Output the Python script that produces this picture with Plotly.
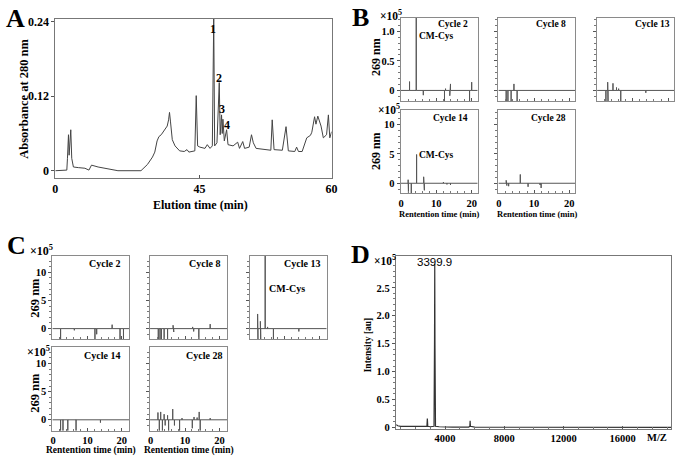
import plotly.graph_objects as go

# ---------------- data ----------------
# Panel A: RP-HPLC chromatogram (x on displayed axis scale, absorbance at 280 nm)
a_time = [0.0, 2.5, 2.64, 2.86, 3.0, 3.21, 3.36, 3.57, 3.93, 5.0, 6.43, 7.3, 7.86, 9.29, 13.6, 18.6,
          20.0, 21.1, 21.6, 22.1, 22.5, 23.0, 23.5, 24.0, 24.3, 24.6, 24.8, 25.0, 25.4, 26.0, 27.0,
          28.0, 28.6, 29.0, 30.0, 30.3, 30.6, 30.9, 31.4, 32.5, 33.0, 33.6, 34.1, 34.4, 34.6,
          35.1, 35.6, 35.8, 36.1, 36.25, 36.4, 36.7, 37.2, 37.5, 38.6, 39.6, 40.0, 40.7, 41.1,
          42.1, 42.6, 43.0, 43.6, 45.7, 46.8, 47.1, 47.5, 49.3, 50.1, 50.6, 52.0, 52.4, 52.8,
          53.6, 54.6, 55.4, 55.7, 56.3, 56.6, 57.0, 57.3, 57.7, 58.2, 58.9, 59.3, 59.6, 60.0]
a_abs = [0.000, 0.001, 0.020, 0.058, 0.025, 0.050, 0.066, 0.020, 0.006, 0.005, 0.004, 0.001, 0.009,
         0.006, 0.000, 0.000, 0.010, 0.022, 0.030, 0.048, 0.055, 0.058, 0.064, 0.068, 0.072, 0.082,
         0.094, 0.080, 0.050, 0.040, 0.032, 0.031, 0.034, 0.030, 0.031, 0.032, 0.121, 0.040, 0.038,
         0.036, 0.042, 0.036, 0.040, 0.245, 0.040, 0.045, 0.142, 0.058, 0.090, 0.060, 0.083, 0.048,
         0.066, 0.042, 0.040, 0.046, 0.036, 0.047, 0.036, 0.038, 0.058, 0.045, 0.036, 0.034, 0.033,
         0.082, 0.034, 0.033, 0.071, 0.032, 0.031, 0.038, 0.031, 0.031, 0.053, 0.057, 0.062, 0.087,
         0.075, 0.088, 0.082, 0.072, 0.053, 0.058, 0.090, 0.053, 0.063]
a_xtick_pos = [0, 31.3, 60]
a_xtick_text = ["0", "45", "60"]
a_ytick_val = [0, 0.12, 0.24]
a_ytick_text = ["0", "0.12", "0.24"]
a_peak_labels = ["1", "2", "3", "4"]
a_peak_x = [34.3, 35.6, 36.3, 37.3]
a_peak_y = [0.229, 0.150, 0.099, 0.073]

# Panel B: PTH chromatograms (x10^5), spike retention times and heights
b_cycles = ["Cycle 2", "Cycle 8", "Cycle 13", "Cycle 14", "Cycle 28"]
b_t = [
    [2.4, 4.3, 6.3, 12.3, 12.6, 13.8, 14.0, 19.4, 20.0],
    [2.1, 2.6, 3.5, 4.3, 5.2],
    [2.4, 2.9, 3.0, 4.4, 5.4, 6.0, 6.6, 13.7],
    [2.0, 2.1, 2.9, 4.4, 6.4, 6.6, 12.0, 13.0, 14.0],
    [2.1, 2.3, 2.8, 6.1, 8.3, 11.7, 12.0],
]
b_h = [
    [0.15, 1.3, -0.08, -0.2, 0.03, -0.09, 0.11, -0.2, 0.14],
    [-0.2, -0.2, -0.2, 0.11, -0.2],
    [-0.2, 0.14, -0.2, 0.12, 0.05, 0.03, -0.2, -0.04],
    [0.6, -1.8, -1.8, 4.9, 1.1, -1.2, 0.2, -0.2, -0.3],
    [0.5, -0.4, -0.5, 1.5, -0.6, -0.3, -0.8],
]
b_ytick_row1 = [0, 0.5, 1.0]
b_ytick_row1_text = ["0", "0.5", "1.0"]
b_ytick_row2 = [0, 5, 10]
b_ytick_row2_text = ["0", "5", "10"]

# Panel C
c_cycles = ["Cycle 2", "Cycle 8", "Cycle 13", "Cycle 14", "Cycle 28"]
c_t = [
    [2.2, 6.2, 12.2, 12.7, 17.2, 19.5, 20.5],
    [2.2, 2.7, 3.1, 3.9, 4.9, 6.5, 6.7, 12.2, 12.5, 14.0, 17.3],
    [2.1, 2.2, 2.9, 3.0, 4.3, 5.0, 6.7, 14.1],
    [2.2, 2.9, 4.3, 6.7, 13.8],
    [2.1, 2.5, 2.9, 3.4, 3.9, 4.2, 4.9, 5.2, 6.4, 6.9, 8.4, 9.1, 12.1, 12.6, 13.5, 14.1, 14.4, 17.3],
]
c_h = [
    [-2, -0.3, -2, -1.0, 0.7, -2, -2],
    [-2, -2, -2, -2, -2, 0.6, -0.6, 0.3, -0.5, -2, 0.8],
    [2.6, -2, 1.3, -2, 14, 0.3, -2, -0.5],
    [-2, -2, -2, -2, -0.5],
    [1.3, -2, 1.4, -2, 1.0, -1.0, 0.8, -2, 1.9, -1.0, -2, 0.3, -1.5, 0.5, 0.4, 1.4, -2, 0.3],
]
c_ytick = [0, 5, 10]
c_ytick_text = ["0", "5", "10"]
rt_xtick = [0, 10, 20]
rt_xtick_text = ["0", "10", "20"]

# Panel D: MALDI-TOF spectrum (x10^5)
d_mz = [700, 800, 1000, 1500, 2000, 2700, 2770, 2800, 2830, 3000, 3250, 3285, 3300, 3315, 3350,
        3600, 4500, 5600, 5670, 5690, 5710, 6000, 10000, 19300]
d_int = [0.05, 0.03, 0.02, 0.02, 0.012, 0.01, 0.02, 0.16, 0.02, 0.012, 0.02, 1.55, 2.93, 1.5, 0.02,
         0.012, 0.006, 0.006, 0.02, 0.12, 0.02, 0.004, 0.002, 0.0]
d_peak_label = "3399.9"
d_xtick = [4000, 8000, 12000, 16000]
d_xtick_text = ["4000", "8000", "12000", "16000"]
d_ytick = [0, 0.5, 1.0, 1.5, 2.0, 2.5]
d_ytick_text = ["0", "0.5", "1.0", "1.5", "2.0", "2.5"]

# ---------------- layout helpers ----------------
W, H = 685, 461
SERIF = "Liberation Serif"
SANS = "Liberation Sans"


def px(x):
    return x / W


def py(y):
    return 1 - y / H


fig = go.Figure()


def axis_name(n):
    return "" if n == 1 else str(n)


def add_axes(n, xpx, ypx, xr, yr, xtv, xtt, ytv, ytt, show_x, show_y, fsize=11,
             xminor=None, yminor=None, linecolor="#8a8a8a", xticks="inside"):
    tf = dict(family=SERIF, size=fsize, color="black", weight="bold")
    xa = dict(domain=[px(xpx[0]), px(xpx[1])], range=xr, anchor="y" + axis_name(n),
              showgrid=False, zeroline=False, showline=True, mirror=True,
              linecolor=linecolor, linewidth=1, ticks=xticks, ticklen=3,
              tickcolor="#555", tickvals=xtv, ticktext=xtt, showticklabels=show_x,
              tickfont=tf, fixedrange=True)
    ya = dict(domain=[py(ypx[1]), py(ypx[0])], range=yr, anchor="x" + axis_name(n),
              showgrid=False, zeroline=False, showline=True, mirror=True,
              linecolor=linecolor, linewidth=1, ticks="outside", ticklen=3,
              tickcolor="#555", tickvals=ytv, ticktext=ytt, showticklabels=show_y,
              tickfont=tf, fixedrange=True)
    if xminor:
        xa["minor"] = dict(ticks="inside", ticklen=2, dtick=xminor, tickcolor="#777")
    if yminor:
        ya["minor"] = dict(ticks="outside", ticklen=2, dtick=yminor, tickcolor="#777")
    fig.layout["xaxis" + axis_name(n)] = xa
    fig.layout["yaxis" + axis_name(n)] = ya


def spike_line(ts, hs, t0, t1):
    xs, ys = [t0], [0]
    for t, h in sorted(zip(ts, hs)):
        xs += [t, t, t]
        ys += [0, h, 0]
    xs.append(t1)
    ys.append(0)
    return xs, ys


def ann(text, x, y, size, bold=True, family=SERIF, xanchor="center", yanchor="middle",
        angle=0):
    fig.add_annotation(text=text, x=px(x), y=py(y), xref="paper", yref="paper",
                       showarrow=False, textangle=angle, xanchor=xanchor, yanchor=yanchor,
                       font=dict(family=family, size=size, color="black",
                                 weight="bold" if bold else "normal"))


def dom_label(text, n, xf, yf, size):
    fig.add_annotation(text=text, x=xf, y=yf, xref=f"x{n} domain", yref=f"y{n} domain",
                       showarrow=False, xanchor="right", yanchor="middle",
                       font=dict(family=SERIF, size=size, color="black", weight="bold"))


def data_label(text, n, x, y, size, xanchor="left"):
    ax = axis_name(n)
    fig.add_annotation(text=text, x=x, y=y, xref="x" + ax, yref="y" + ax, showarrow=False,
                       xanchor=xanchor, yanchor="middle",
                       font=dict(family=SERIF, size=size, color="black", weight="bold"))


# ---------------- Panel A ----------------
add_axes(1, (53, 333), (15, 177), [0, 60], [-0.011, 0.245], a_xtick_pos, a_xtick_text,
         a_ytick_val, a_ytick_text, True, True, fsize=12, linecolor="#777", xticks="inside")
fig.add_trace(go.Scatter(x=a_time, y=a_abs, mode="lines", line=dict(color="#444", width=1),
                         xaxis="x", yaxis="y", showlegend=False, hoverinfo="skip"))
for lab, xx, yy in zip(a_peak_labels, a_peak_x, a_peak_y):
    data_label(lab, 1, xx, yy, 12, xanchor="center")
ann("A", 13, 15, 26)
ann("Absorbance at 280 nm", 21, 97, 12.5, angle=-90)
ann("Elution time (min)", 200, 205, 12)

# ---------------- Panel B ----------------
b_pos = [((403, 481), (14, 99)), ((502, 580), (14, 99)), ((602, 680), (14, 99)),
         ((403, 481), (108, 193)), ((502, 580), (108, 193))]
b_label_x = [0.9, 0.91, 0.97, 0.9, 0.91]
b_label_y = [0.93, 0.93, 0.93, 0.9, 0.9]
for i in range(5):
    n = 2 + i
    row1 = i < 3
    yr = [-0.18, 1.23] if row1 else [-1.7, 12.5]
    ytv = b_ytick_row1 if row1 else b_ytick_row2
    ytt = b_ytick_row1_text if row1 else b_ytick_row2_text
    add_axes(n, b_pos[i][0], b_pos[i][1], [-0.1, 21.7], yr, rt_xtick, rt_xtick_text, ytv, ytt,
             show_x=not row1, show_y=(i in (0, 3)), fsize=10.5, xminor=2,
             yminor=(0.1 if row1 else 1))
    xs, ys = spike_line(b_t[i], b_h[i], -0.1, 21.7)
    fig.add_trace(go.Scatter(x=xs, y=ys, mode="lines", line=dict(color="#555", width=1),
                             xaxis="x" + str(n), yaxis="y" + str(n), showlegend=False,
                             hoverinfo="skip"))
    dom_label(b_cycles[i], n, b_label_x[i], b_label_y[i], 9.5)
data_label("CM-Cys", 2, 4.6, 0.92, 9.5)
data_label("CM-Cys", 5, 4.6, 4.83, 9.5)
ann("B", 362, 14, 26)
ann("×10<sup>5</sup>", 380, 11, 11.5, xanchor="left")
ann("×10<sup>5</sup>", 378, 107, 11.5, xanchor="left")
ann("269 nm", 378, 54, 12, angle=-90)
ann("269 nm", 378, 150, 12, angle=-90)
ann("Rentention time (min)", 442, 214, 8.5)
ann("Rentention time (min)", 541, 214, 8.5)

# ---------------- Panel C ----------------
c_pos = [((50, 128), (257, 342)), ((149, 227), (257, 342)), ((250, 328), (257, 342)),
         ((50, 128), (350, 435)), ((149, 227), (350, 435))]
c_label_x = [0.91, 0.94, 0.94, 0.91, 0.96]
for i in range(5):
    n = 7 + i
    row1 = i < 3
    add_axes(n, c_pos[i][0], c_pos[i][1], [-0.2, 22.2], [-1.9, 12.9], rt_xtick, rt_xtick_text,
             c_ytick, c_ytick_text, show_x=not row1, show_y=(i in (0, 3)), fsize=10.5,
             xminor=2, yminor=1)
    xs, ys = spike_line(c_t[i], c_h[i], -0.2, 22.2)
    fig.add_trace(go.Scatter(x=xs, y=ys, mode="lines", line=dict(color="#555", width=1),
                             xaxis="x" + str(n), yaxis="y" + str(n), showlegend=False,
                             hoverinfo="skip"))
    dom_label(c_cycles[i], n, c_label_x[i], 0.906, 10)
data_label("CM-Cys", 9, 4.9, 7.07, 10)
ann("C", 14, 246, 26)
ann("×10<sup>5</sup>", 25, 251, 12, xanchor="left")
ann("×10<sup>5</sup>", 22, 354, 12, xanchor="left")
ann("269 nm", 33, 300, 12.5, angle=-90)
ann("269 nm", 33, 397, 12.5, angle=-90)
ann("Rentention time (min)", 89, 455, 9.5)
ann("Rentention time (min)", 188, 455, 9.5)

# ---------------- Panel D ----------------
add_axes(12, (398, 677), (257, 433), [667, 19267], [-0.02, 3.07], d_xtick, d_xtick_text,
         d_ytick, d_ytick_text, True, True, fsize=10.5, xminor=1000, yminor=0.1,
         linecolor="#777")
fig.add_trace(go.Scatter(x=d_mz, y=d_int, mode="lines", line=dict(color="#333", width=1.2),
                         xaxis="x12", yaxis="y12", showlegend=False, hoverinfo="skip"))
fig.add_annotation(text=d_peak_label, x=3300, y=2.93, xref="x12", yref="y12", showarrow=False,
                   yanchor="bottom", yshift=-6,
                   font=dict(family=SANS, size=11.5, color="black"))
ann("D", 362, 255, 26)
ann("×10<sup>5</sup>", 374, 261, 11.5, xanchor="left")
ann("Intensity [au]", 370, 348, 9.5, angle=-90)
ann("M/Z", 663, 442, 10.5)

fig.update_layout(width=W, height=H, margin=dict(l=0, r=0, t=0, b=0),
                  paper_bgcolor="white", plot_bgcolor="white", showlegend=False)

fig.write_html("out.html", config={"displayModeBar": False},
               post_script="document.body.style.margin='0';document.body.style.padding='0';")
